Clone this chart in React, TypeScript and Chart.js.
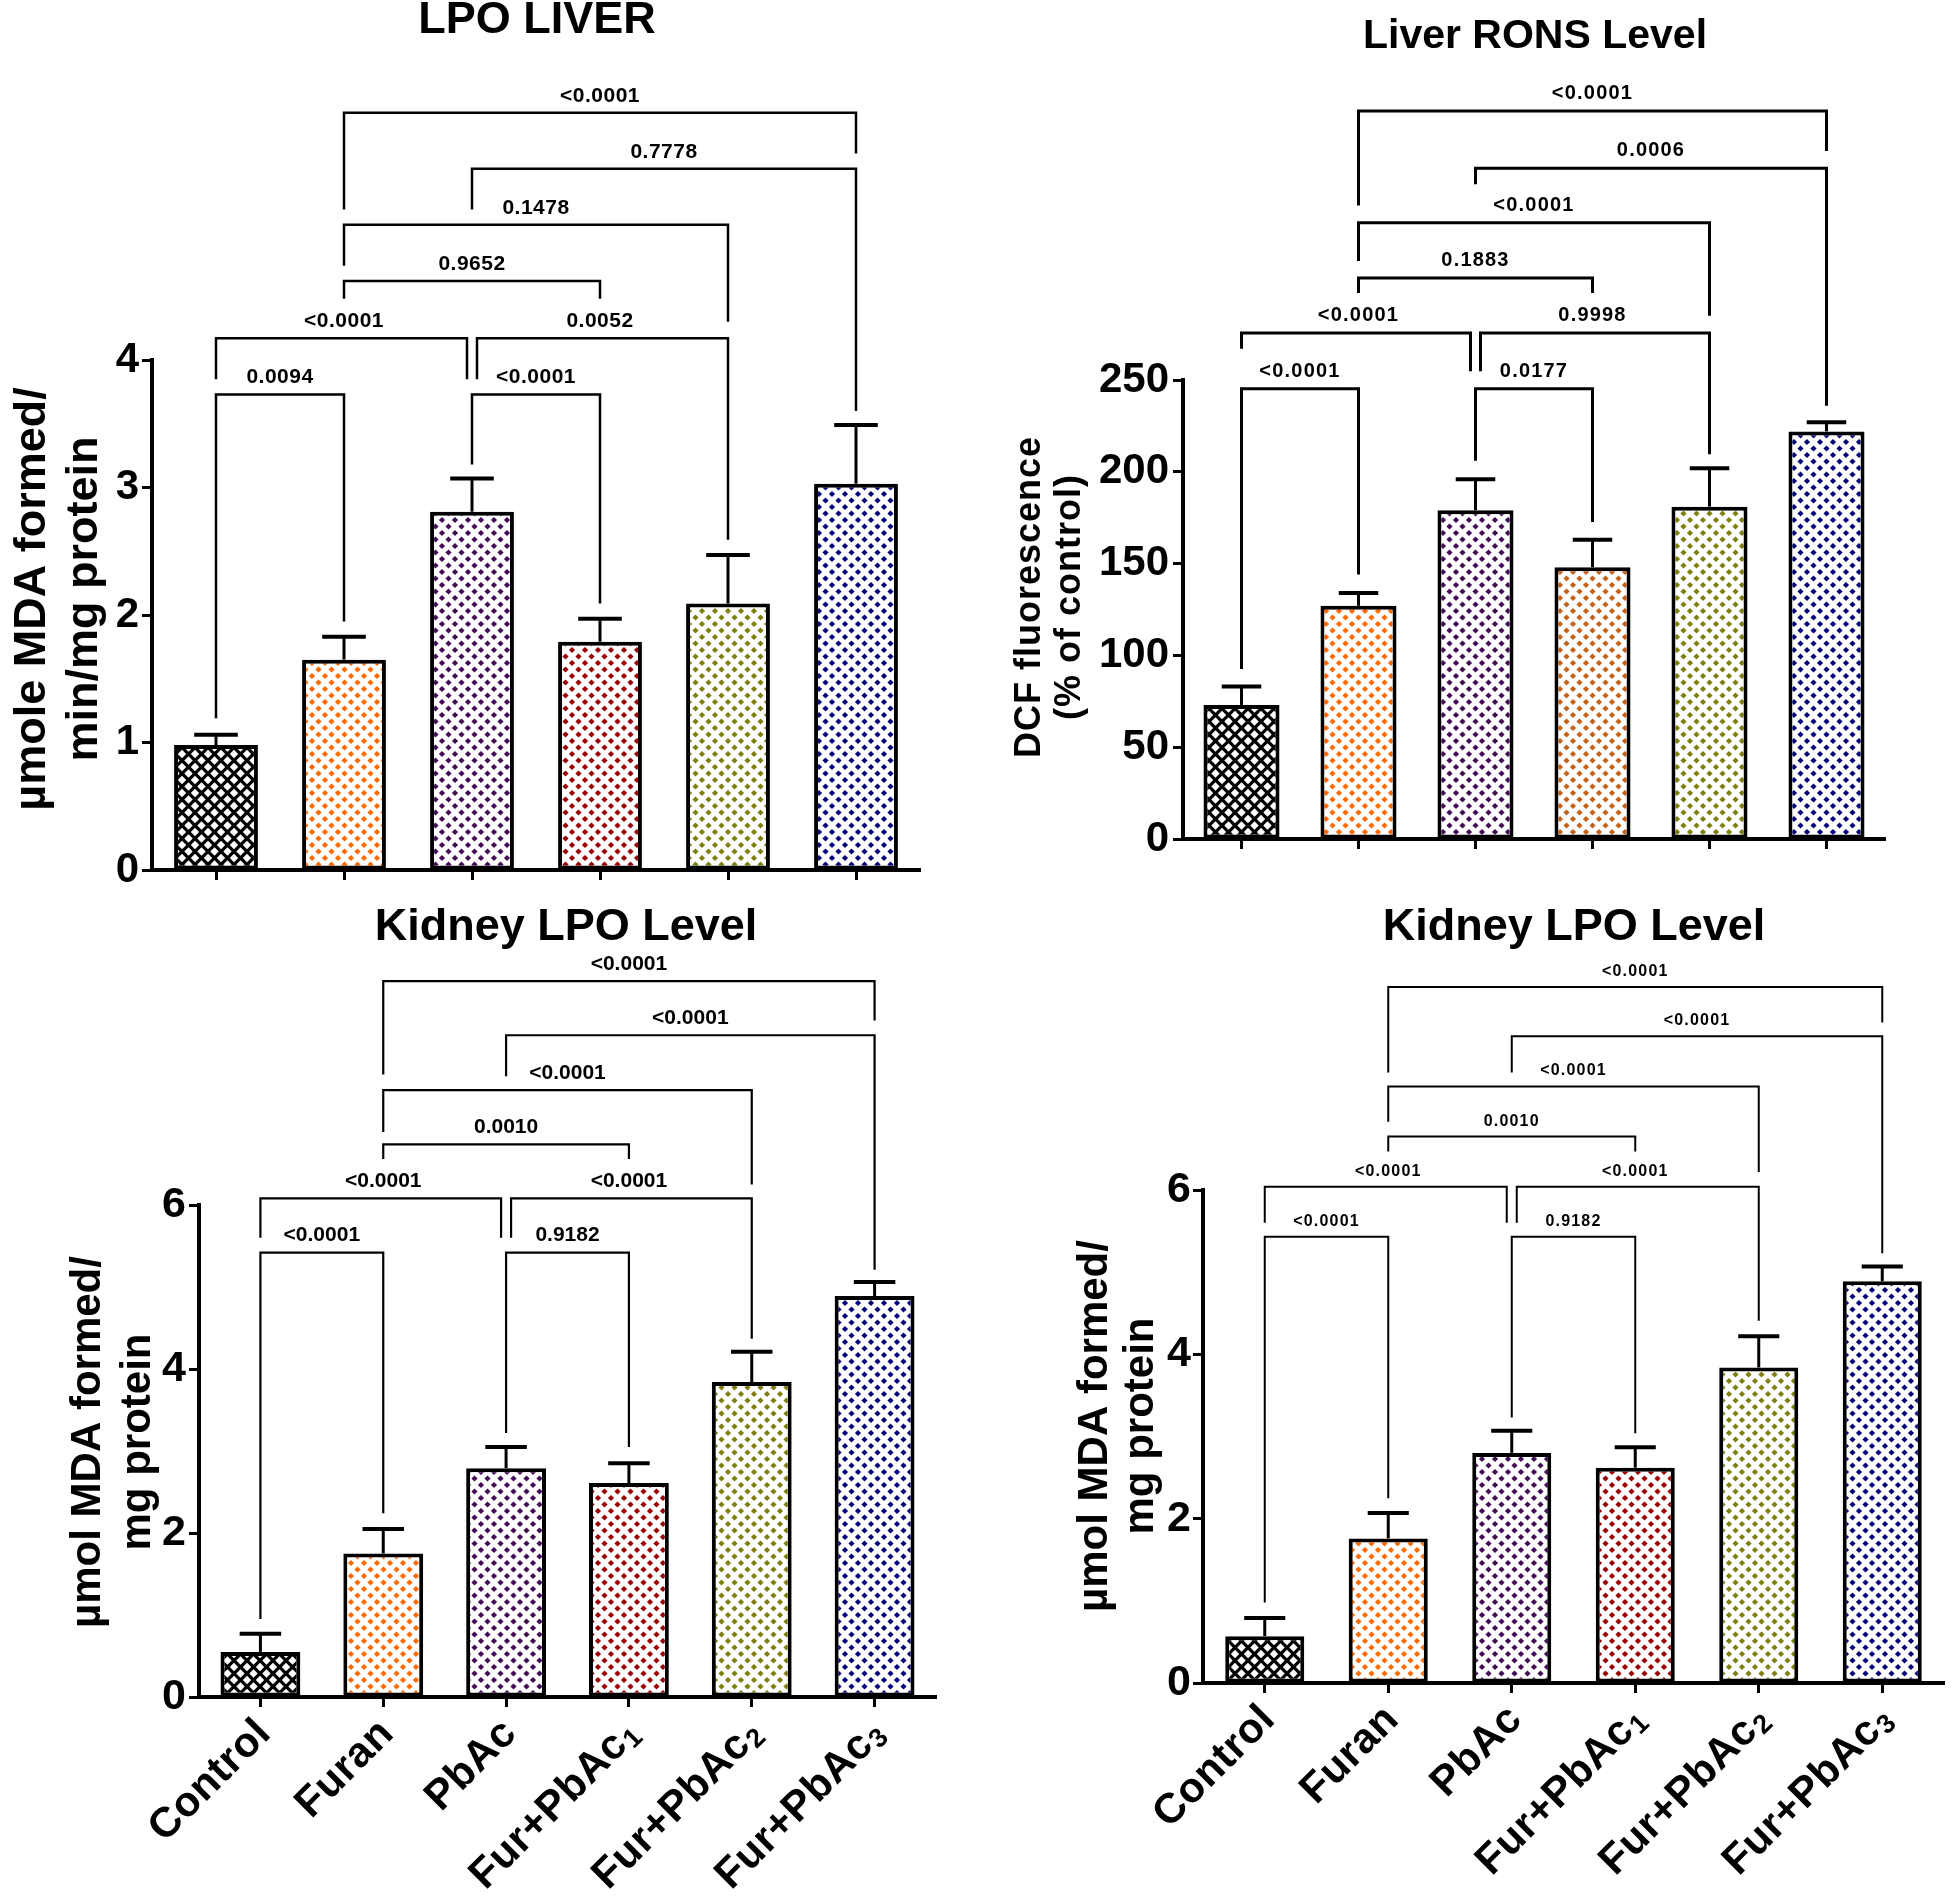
import React, { useEffect, useRef } from 'react';
import { Chart, registerables } from 'chart.js';

Chart.register(...registerables);

const FONT = '"Liberation Sans", Arial, Helvetica, sans-serif';

// ---------------- data ----------------
const CATEGORIES = ['Control', 'Furan', 'PbAc', 'Fur+PbAc₁', 'Fur+PbAc₂', 'Fur+PbAc₃'];

// [from, to, bracket level, left-leg end, right-leg end, p label]
type Bracket = [number, number, number, number, number, string];

const LIVER_LPO_MEAN = [0.98, 1.65, 2.81, 1.79, 2.09, 3.03];
const LIVER_LPO_SD = [0.08, 0.18, 0.26, 0.18, 0.38, 0.46];
const LIVER_LPO_TICKS = [0, 1, 2, 3, 4];
const LIVER_LPO_BRACKETS: Bracket[] = [
  [0, 1, 3.73, 1.19, 1.95, '0.0094'],
  [2, 3, 3.73, 3.18, 2.09, '<0.0001'],
  [0, 2, 4.17, 3.85, 3.85, '<0.0001'],
  [2, 4, 4.17, 3.85, 2.59, '0.0052'],
  [1, 3, 4.62, 4.48, 4.48, '0.9652'],
  [1, 4, 5.06, 4.74, 4.3, '0.1478'],
  [2, 5, 5.5, 5.18, 3.6, '0.7778'],
  [1, 5, 5.94, 5.18, 5.62, '<0.0001'],
];

const LIVER_RONS_MEAN = [73, 127, 179, 148, 181, 222];
const LIVER_RONS_SD = [10, 7, 17, 15, 21, 5];
const LIVER_RONS_TICKS = [0, 50, 100, 150, 200, 250];
const LIVER_RONS_BRACKETS: Bracket[] = [
  [0, 1, 245.3, 92.6, 144, '<0.0001'],
  [2, 3, 245.3, 206, 172.7, '0.0177'],
  [0, 2, 275.6, 267, 254.7, '<0.0001'],
  [2, 4, 275.6, 254.7, 209.5, '0.9998'],
  [1, 3, 305.5, 297.4, 297.4, '0.1883'],
  [1, 4, 335.7, 314.8, 285, '<0.0001'],
  [2, 5, 365.3, 356.6, 236, '0.0006'],
  [1, 5, 396.5, 345, 374.7, '<0.0001'],
];

const KIDNEY_A_MEAN = [0.55, 1.75, 2.79, 2.61, 3.84, 4.89];
const KIDNEY_A_SD = [0.22, 0.3, 0.26, 0.24, 0.37, 0.17];
const KIDNEY_B_MEAN = [0.57, 1.76, 2.8, 2.62, 3.84, 4.89];
const KIDNEY_B_SD = [0.22, 0.31, 0.27, 0.25, 0.38, 0.18];
const KIDNEY_TICKS = [0, 2, 4, 6];
const KIDNEY_A_BRACKETS: Bracket[] = [
  [0, 1, 5.42, 0.95, 2.24, '<0.0001'],
  [2, 3, 5.42, 3.22, 3.05, '0.9182'],
  [0, 2, 6.08, 5.6, 5.6, '<0.0001'],
  [2, 4, 6.08, 5.6, 4.37, '<0.0001'],
  [1, 3, 6.74, 6.56, 6.56, '0.0010'],
  [1, 4, 7.4, 6.89, 6.25, '<0.0001'],
  [2, 5, 8.07, 7.57, 5.21, '<0.0001'],
  [1, 5, 8.73, 7.59, 8.25, '<0.0001'],
];
const KIDNEY_B_BRACKETS: Bracket[] = [
  [0, 1, 5.43, 0.98, 2.25, '<0.0001'],
  [2, 3, 5.43, 3.23, 3.04, '0.9182'],
  [0, 2, 6.04, 5.6, 5.6, '<0.0001'],
  [2, 4, 6.04, 5.6, 4.41, '<0.0001'],
  [1, 3, 6.65, 6.47, 6.47, '0.0010'],
  [1, 4, 7.26, 6.83, 6.22, '<0.0001'],
  [2, 5, 7.87, 7.43, 5.23, '<0.0001'],
  [1, 5, 8.47, 7.43, 8.04, '<0.0001'],
];

const COLORS_LPO = ['#000000', '#ff6a00', '#420c56', '#9c0000', '#7f7f10', '#06067a'];
const COLORS_RONS = ['#000000', '#ff6a00', '#420c56', '#c4621a', '#7f7f10', '#06067a'];

// ---------------- panel layout/styles ----------------
interface Spec {
  cx: number; cy: number; cw: number; ch: number;
  area: { left: number; right: number; top: number; bottom: number };
  title: string; titleX: number; titleBase: number; titleSize: number;
  yTitle: string[]; yTitleBase: number[]; yTitleY: number; yTitleSize: number; yTitleSpacing: number;
  ticks: number[]; tickSize: number; tickPad: number;
  means: number[]; sds: number[]; colors: string[];
  brackets: Bracket[]; annSize: number; annSpacing: number; annGap: number; bracketWidth: number;
  xLabels: boolean; xLabelSize: number; xLabelSpacing: number;
  barPct: number;
}

const PANELS: Spec[] = [
  {
    cx: 0, cy: 0, cw: 975, ch: 900,
    area: { left: 152, right: 920, top: 360, bottom: 870 },
    title: 'LPO LIVER', titleX: 537, titleBase: 33, titleSize: 45,
    yTitle: ['µmole MDA formed/', 'min/mg protein'], yTitleBase: [45, 97], yTitleY: 599, yTitleSize: 45, yTitleSpacing: 0,
    ticks: LIVER_LPO_TICKS, tickSize: 42, tickPad: 3,
    means: LIVER_LPO_MEAN, sds: LIVER_LPO_SD, colors: COLORS_LPO,
    brackets: LIVER_LPO_BRACKETS, annSize: 21, annSpacing: 0.5, annGap: 11, bracketWidth: 2.5,
    xLabels: false, xLabelSize: 42, xLabelSpacing: 0.5,
    barPct: 0.655,
  },
  {
    cx: 975, cy: 0, cw: 976, ch: 900,
    area: { left: 1183, right: 1885, top: 380, bottom: 839 },
    title: 'Liver RONS Level', titleX: 1535, titleBase: 48, titleSize: 41,
    yTitle: ['DCF fluorescence', '(% of control)'], yTitleBase: [1040, 1080], yTitleY: 597, yTitleSize: 36, yTitleSpacing: 1,
    ticks: LIVER_RONS_TICKS, tickSize: 42, tickPad: 4,
    means: LIVER_RONS_MEAN, sds: LIVER_RONS_SD, colors: COLORS_RONS,
    brackets: LIVER_RONS_BRACKETS, annSize: 20, annSpacing: 1.2, annGap: 12, bracketWidth: 3,
    xLabels: false, xLabelSize: 42, xLabelSpacing: 0.5,
    barPct: 0.65,
  },
  {
    cx: 0, cy: 900, cw: 975, ch: 996,
    area: { left: 199, right: 936, top: 1205, bottom: 1697 },
    title: 'Kidney LPO Level', titleX: 566, titleBase: 940, titleSize: 45,
    yTitle: ['µmol MDA formed/', 'mg protein'], yTitleBase: [100, 150], yTitleY: 1442, yTitleSize: 42, yTitleSpacing: 0,
    ticks: KIDNEY_TICKS, tickSize: 43, tickPad: 3,
    means: KIDNEY_A_MEAN, sds: KIDNEY_A_SD, colors: COLORS_LPO,
    brackets: KIDNEY_A_BRACKETS, annSize: 21, annSpacing: 0, annGap: 11.5, bracketWidth: 2.2,
    xLabels: true, xLabelSize: 42, xLabelSpacing: 0.5,
    barPct: 0.65,
  },
  {
    cx: 975, cy: 900, cw: 976, ch: 996,
    area: { left: 1203, right: 1944, top: 1190, bottom: 1683 },
    title: 'Kidney LPO Level', titleX: 1574, titleBase: 940, titleSize: 45,
    yTitle: ['µmol MDA formed/', 'mg protein'], yTitleBase: [1107, 1153], yTitleY: 1426, yTitleSize: 42, yTitleSpacing: 0,
    ticks: KIDNEY_TICKS, tickSize: 43, tickPad: 2,
    means: KIDNEY_B_MEAN, sds: KIDNEY_B_SD, colors: COLORS_LPO,
    brackets: KIDNEY_B_BRACKETS, annSize: 16, annSpacing: 1.2, annGap: 11, bracketWidth: 2,
    xLabels: true, xLabelSize: 42, xLabelSpacing: 0.5,
    barPct: 0.64,
  },
];

function makePattern(ctx: CanvasRenderingContext2D, color: string): CanvasPattern | string {
  const s = 13;
  const c = document.createElement('canvas');
  c.width = s;
  c.height = s;
  const g = c.getContext('2d');
  if (!g) return color;
  const dark = color === '#000000';
  g.fillStyle = dark ? '#000000' : '#ffffff';
  g.fillRect(0, 0, s, s);
  g.fillStyle = dark ? '#ffffff' : color;
  const r = dark ? 4.2 : 3.1;
  const pts = [[s / 2, s / 2], [0, 0], [s, 0], [0, s], [s, s]];
  for (const [x, y] of pts) {
    g.beginPath();
    g.moveTo(x, y - r);
    g.lineTo(x + r, y);
    g.lineTo(x, y + r);
    g.lineTo(x - r, y);
    g.closePath();
    g.fill();
  }
  return ctx.createPattern(c, 'repeat') || color;
}

const SUBS: Record<string, string> = { '₁': '1', '₂': '2', '₃': '3' };

function decorPlugin(spec: Spec) {
  return {
    id: 'decor',
    afterDatasetsDraw(chart: any) {
      const ctx: CanvasRenderingContext2D = chart.ctx;
      const ys = chart.scales.y;
      const meta = chart.getDatasetMeta(0);
      ctx.save();
      ctx.strokeStyle = '#000';
      ctx.lineCap = 'butt';
      meta.data.forEach((bar: any, i: number) => {
        const p = bar.getProps(['x', 'width'], true);
        const yTop = ys.getPixelForValue(spec.means[i]);
        const yErr = ys.getPixelForValue(spec.means[i] + spec.sds[i]);
        ctx.lineWidth = 3;
        ctx.beginPath();
        ctx.moveTo(p.x, yTop);
        ctx.lineTo(p.x, yErr);
        ctx.stroke();
        const hw = p.width * 0.26;
        ctx.lineWidth = 4;
        ctx.beginPath();
        ctx.moveTo(p.x - hw, yErr);
        ctx.lineTo(p.x + hw, yErr);
        ctx.stroke();
      });
      ctx.restore();
    },
    afterDraw(chart: any) {
      const ctx: CanvasRenderingContext2D = chart.ctx as any;
      const ys = chart.scales.y;
      const meta = chart.getDatasetMeta(0);
      const ox = spec.cx;
      const oy = spec.cy;
      ctx.save();
      ctx.fillStyle = '#000';
      ctx.strokeStyle = '#000';

      // title
      ctx.font = `bold ${spec.titleSize}px ${FONT}`;
      ctx.textAlign = 'center';
      ctx.textBaseline = 'alphabetic';
      ctx.fillText(spec.title, spec.titleX - ox, spec.titleBase - oy);

      // y-axis title
      ctx.font = `bold ${spec.yTitleSize}px ${FONT}`;
      (ctx as any).letterSpacing = `${spec.yTitleSpacing}px`;
      spec.yTitle.forEach((line, k) => {
        ctx.save();
        ctx.translate(spec.yTitleBase[k] - ox, spec.yTitleY - oy);
        ctx.rotate(-Math.PI / 2);
        ctx.textAlign = 'center';
        ctx.textBaseline = 'alphabetic';
        ctx.fillText(line, 0, 0);
        ctx.restore();
      });
      (ctx as any).letterSpacing = '0px';

      // comparison brackets
      const xs = meta.data.map((b: any) => b.getProps(['x'], true).x);
      ctx.lineWidth = spec.bracketWidth;
      ctx.lineJoin = 'miter';
      ctx.lineCap = 'butt';
      ctx.font = `bold ${spec.annSize}px ${FONT}`;
      ctx.textAlign = 'center';
      ctx.textBaseline = 'alphabetic';
      for (const br of spec.brackets) {
        const [a, b, lvl, le, re, label] = br;
        let xa = xs[a];
        let xb = xs[b];
        if (spec.brackets.some((o) => o !== br && o[2] === lvl && o[1] === a)) xa += 5;
        if (spec.brackets.some((o) => o !== br && o[2] === lvl && o[0] === b)) xb -= 5;
        const y = ys.getPixelForValue(lvl);
        const yl = ys.getPixelForValue(le);
        const yr = ys.getPixelForValue(re);
        ctx.beginPath();
        ctx.moveTo(xa, yl);
        ctx.lineTo(xa, y);
        ctx.lineTo(xb, y);
        ctx.lineTo(xb, yr);
        ctx.stroke();
        (ctx as any).letterSpacing = `${spec.annSpacing}px`;
        ctx.fillText(label, (xs[a] + xs[b]) / 2, y - spec.annGap);
        (ctx as any).letterSpacing = '0px';
      }

      // rotated category labels
      if (spec.xLabels) {
        const base = chart.chartArea.bottom;
        CATEGORIES.forEach((lab, i) => {
          ctx.save();
          ctx.translate(xs[i] + 4, base + 30);
          ctx.rotate(-Math.PI / 4);
          ctx.textAlign = 'right';
          ctx.textBaseline = 'middle';
          (ctx as any).letterSpacing = `${spec.xLabelSpacing}px`;
          const last = lab.slice(-1);
          if (SUBS[last]) {
            ctx.font = `bold ${Math.round(spec.xLabelSize * 0.64)}px ${FONT}`;
            const sw = ctx.measureText(SUBS[last]).width;
            ctx.fillText(SUBS[last], 0, 9);
            ctx.font = `bold ${spec.xLabelSize}px ${FONT}`;
            ctx.fillText(lab.slice(0, -1), -sw - 1, 0);
          } else {
            ctx.font = `bold ${spec.xLabelSize}px ${FONT}`;
            ctx.fillText(lab, 0, 0);
          }
          (ctx as any).letterSpacing = '0px';
          ctx.restore();
        });
      }
      ctx.restore();
    },
  };
}

function Panel({ spec }: { spec: Spec }) {
  const ref = useRef<HTMLCanvasElement | null>(null);
  useEffect(() => {
    const canvas = ref.current;
    if (!canvas) return;
    const ctx = canvas.getContext('2d')!;
    const fills = spec.colors.map((c) => makePattern(ctx, c));
    const ticks = spec.ticks;
    const yMin = ticks[0];
    const yMax = ticks[ticks.length - 1];
    const step = ticks[1] - ticks[0];
    const chart = new Chart(canvas, {
      type: 'bar',
      data: {
        labels: CATEGORIES,
        datasets: [
          {
            data: spec.means,
            backgroundColor: fills as any,
            borderColor: '#000000',
            borderWidth: 4,
            borderSkipped: false,
            barPercentage: spec.barPct,
            categoryPercentage: 1,
          },
        ],
      },
      options: {
        responsive: false,
        animation: false,
        devicePixelRatio: 1,
        events: [],
        layout: {
          padding: {
            left: 0,
            top: spec.area.top - spec.cy,
            right: spec.cx + spec.cw - spec.area.right,
            bottom: 0,
          },
        },
        plugins: {
          legend: { display: false },
          tooltip: { enabled: false },
          title: { display: false },
        },
        scales: {
          x: {
            type: 'category',
            offset: true,
            grid: {
              display: true,
              drawOnChartArea: false,
              drawTicks: true,
              tickLength: 10,
              tickWidth: 3,
              tickColor: '#000',
              color: '#000',
              offset: false,
            },
            border: { display: true, color: '#000', width: 4 },
            ticks: { display: false },
            afterFit: (s: any) => {
              s.height = spec.cy + spec.ch - spec.area.bottom;
            },
          },
          y: {
            type: 'linear',
            min: yMin,
            max: yMax,
            ticks: {
              stepSize: step,
              color: '#000',
              padding: spec.tickPad,
              font: { family: FONT, size: spec.tickSize, weight: 'bold' },
            },
            grid: {
              display: true,
              drawOnChartArea: false,
              drawTicks: true,
              tickLength: 10,
              tickWidth: 3,
              tickColor: '#000',
              color: '#000',
            },
            border: { display: true, color: '#000', width: 4 },
            afterFit: (s: any) => {
              s.width = spec.area.left - spec.cx;
            },
          },
        },
      } as any,
      plugins: [decorPlugin(spec) as any],
    });
    return () => chart.destroy();
  }, [spec]);
  return (
    <canvas
      ref={ref}
      width={spec.cw}
      height={spec.ch}
      style={{ position: 'absolute', left: spec.cx, top: spec.cy, width: spec.cw, height: spec.ch }}
    />
  );
}

export default function App() {
  return (
    <div
      style={{
        position: 'absolute',
        left: 0,
        top: 0,
        width: 1951,
        height: 1896,
        background: '#ffffff',
        overflow: 'hidden',
      }}
    >
      {PANELS.map((p, i) => (
        <Panel key={i} spec={p} />
      ))}
    </div>
  );
}
